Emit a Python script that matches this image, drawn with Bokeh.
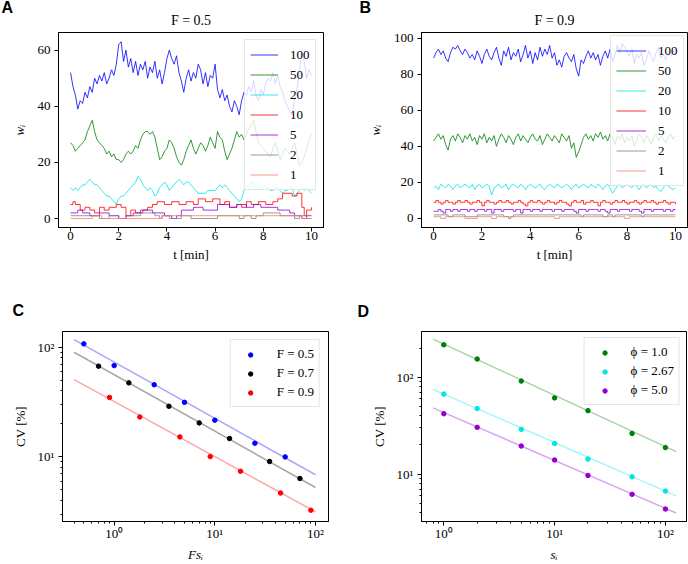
from bokeh.plotting import figure
from bokeh.layouts import column, row
from bokeh.models import (Range1d, Legend, LegendItem, FixedTicker, Title,
                          CustomJSTickFormatter)
from bokeh.embed import file_html
from bokeh.resources import INLINE

SERIF = "Liberation Serif"
SANS = "Liberation Sans"

# ------------------------------------------------------------------ data
# sample times (min) for the densely sampled traces
T_GRID = [round(0.1 * i, 1) for i in range(101)]

SERIES_LABELS = ["100", "50", "20", "10", "5", "2", "1"]
SERIES_COLORS = ["#0000ff", "#008000", "#00e5e5", "#ff0000", "#9400d3", "#808080", "#f08070"]

# ---- panel A  (F = 0.5)
A_W100 = [52, 47, 44, 39, 42, 41, 45, 43, 47, 45,
          50, 48, 51, 49, 52, 48, 50, 53, 51, 55,
          62, 63, 56, 60, 54, 57, 52, 56, 51, 55,
          53, 56, 50, 54, 52, 56, 50, 53, 48, 52,
          57, 60, 57, 55, 58, 52, 49, 45, 50, 53,
          49, 52, 50, 55, 53, 48, 52, 47, 51, 50,
          55, 46, 43, 46, 42, 44, 40, 38, 42, 40,
          37, 42, 45, 44, 47, 45, 49, 44, 42, 46,
          44, 48, 50, 49, 52, 48, 51, 47, 45, 42,
          40, 38, 37, 42, 46, 52, 60, 56, 50, 53, 51]
A_W50 = [27, 26, 24, 25, 26, 27, 28, 31, 33, 35,
         31, 28, 27, 26, 25, 23, 24, 22, 23, 21,
         21, 20, 21, 23, 24, 23, 24, 26, 25, 28,
         30, 31, 31, 30, 31, 29, 25, 21, 22, 24,
         25, 28, 27, 25, 22, 20, 19, 21, 24, 26,
         28, 25, 23, 25, 27, 26, 24, 26, 29, 27,
         25, 31, 29, 28, 24, 21, 23, 25, 28, 31,
         29, 30, 28, 30, 32, 33, 35, 31, 27, 26,
         25, 24, 23, 22, 25, 27, 24, 21, 23, 25,
         24, 23, 25, 27, 23, 19, 20, 22, 25, 28, 30]
A_W20 = [11, 10, 11, 10, 11, 12, 12, 13, 14, 13,
         12, 12, 11, 10, 9, 8, 8, 7, 6, 5,
         7, 8, 8, 9, 10, 11, 12, 13, 15, 14,
         12, 11, 10, 11, 10, 8, 9, 11, 12, 13,
         12, 10, 11, 12, 13, 14, 13, 12, 13, 13,
         12, 11, 10, 9, 9, 9, 9, 10, 10, 10,
         10, 11, 12, 11, 12, 11, 10, 9, 8, 7,
         6, 7, 10, 11, 12, 13, 12, 11, 12, 11,
         12, 11, 11, 10, 10, 11, 11, 10, 9, 10,
         10, 11, 11, 8, 9, 10, 11, 10, 11, 10, 9]
A_T10 = [0, 0.1, 0.2, 0.4, 0.6, 0.8, 1.0, 1.2, 1.4, 1.6, 1.9, 2.1, 2.3, 2.5, 2.7,
         3.0, 3.2, 3.4, 3.6, 3.9, 4.2, 4.5, 4.8, 5.1, 5.3, 5.6, 5.9, 6.2, 6.4, 6.6,
         6.9, 7.1, 7.3, 7.5, 7.8, 8.1, 8.4, 8.6, 8.8, 9.2, 9.4, 9.6, 9.7, 9.8, 10.0]
A_W10 = [5, 6, 5, 3, 4, 3, 2, 4, 3, 4, 5, 4, 1, 3, 2,
         3, 4, 5, 6, 5, 6, 5, 6, 5, 7, 6, 7, 5, 6, 4,
         5, 4, 6, 5, 6, 5, 6, 7, 9, 8, 9, 4, 1, 3, 4]
A_T5 = [0, 0.3, 0.5, 0.8, 1.2, 1.6, 2.0, 2.3, 2.6, 2.9, 3.4, 3.9, 4.2, 4.4, 4.6,
        5.1, 5.5, 6.1, 6.6, 6.9, 7.3, 7.6, 7.9, 8.6, 9.1, 9.3, 9.6, 9.8, 10.0]
A_W5 = [2, 3, 2, 1, 2, 1, 0, 1, 2, 3, 2, 1, 0, 1, 3,
        4, 3, 5, 4, 5, 4, 5, 4, 3, 2, 1, 0, 1, 1]
A_T2 = [0, 1.2, 1.6, 2.0, 2.3, 2.9, 3.5, 3.7, 3.8, 4.1, 4.6, 5.0, 6.1, 7.0, 7.2,
        7.5, 7.7, 8.0, 8.7, 9.3, 9.5, 9.8, 10.0]
A_W2 = [1, 0, 1, 0, 1, 2, 1, 0, 1, 0, 1, 0, 1, 0, 1,
        0, 1, 2, 1, 0, 1, 0, 0]
A_T1 = [0, 0.9, 1.3, 3.8, 9.6, 10.0]
A_W1 = [0, 1, 0, 1, 0, 0]

# ---- panel B  (F = 0.9)
B_W100 = [89, 92, 94, 91, 93, 89, 87, 92, 95, 94,
          96, 93, 91, 94, 92, 89, 91, 88, 93, 90,
          86, 91, 94, 90, 88, 92, 95, 89, 85, 93,
          90, 95, 88, 92, 90, 94, 87, 91, 96, 89,
          93, 86, 92, 88, 95, 90, 94, 91, 96, 89,
          92, 85, 88, 84, 90, 92, 89, 87, 91, 83,
          79, 88, 86, 90, 93, 89, 92, 88, 91, 85,
          90, 93, 89, 94, 87, 91, 96, 92, 97, 95,
          93, 90, 94, 86, 91, 89, 92, 85, 88, 93,
          90, 87, 92, 95, 89, 91, 88, 92, 90, 93, 91]
B_W50 = [43, 45, 47, 44, 46, 41, 38, 44, 46, 43,
         47, 45, 42, 46, 44, 47, 43, 45, 41, 46,
         44, 47, 42, 45, 43, 46, 40, 44, 47, 45,
         42, 46, 44, 41, 45, 47, 43, 46, 44, 42,
         45, 47, 44, 43, 46, 41, 44, 47, 45, 43,
         46, 44, 42, 47, 45, 43, 46, 39, 42, 34,
         37, 41, 45, 47, 44, 46, 43, 47, 45, 48,
         44, 46, 43, 47, 45, 41, 46, 44, 47, 42,
         45, 43, 46, 40, 44, 47, 45, 42, 46, 44,
         41, 45, 47, 43, 46, 44, 42, 45, 47, 44, 46]
B_W20 = [17, 18, 16, 19, 18, 17, 19, 18, 16, 18,
         19, 17, 18, 19, 18, 17, 19, 16, 18, 19,
         17, 18, 19, 18, 13, 17, 18, 19, 17, 18,
         19, 16, 18, 19, 18, 17, 19, 18, 16, 18,
         19, 18, 17, 18, 19, 17, 16, 18, 19, 18,
         17, 19, 18, 17, 18, 19, 18, 16, 18, 19,
         17, 18, 19, 18, 17, 19, 18, 17, 19, 18,
         16, 18, 19, 17, 14, 16, 18, 19, 17, 18,
         19, 18, 17, 19, 18, 16, 18, 19, 17, 18,
         19, 17, 18, 16, 15, 17, 19, 18, 17, 16, 17]
B_W10 = [9, 10, 9, 8, 9, 10, 9, 9, 8, 9,
         10, 9, 9, 10, 9, 8, 9, 9, 10, 9,
         7, 9, 10, 9, 9, 8, 9, 10, 9, 9,
         10, 9, 8, 9, 9, 10, 9, 8, 7, 9,
         10, 9, 9, 10, 9, 8, 9, 10, 9, 9,
         8, 9, 10, 9, 9, 8, 7, 9, 10, 9,
         9, 10, 8, 9, 9, 10, 9, 9, 7, 9,
         10, 9, 9, 8, 9, 10, 9, 9, 10, 9,
         8, 9, 9, 10, 9, 8, 9, 10, 9, 9,
         10, 9, 8, 9, 9, 10, 9, 8, 9, 9, 8]
B_W5 = [4, 4, 5, 4, 3, 5, 5, 4, 5, 5,
        4, 5, 5, 5, 4, 5, 5, 4, 5, 5,
        5, 4, 5, 5, 3, 5, 5, 5, 4, 5,
        5, 5, 5, 4, 5, 5, 3, 5, 5, 5,
        4, 5, 5, 5, 4, 5, 5, 5, 5, 4,
        5, 5, 5, 4, 5, 5, 5, 5, 4, 3,
        5, 5, 5, 4, 5, 5, 5, 5, 4, 5,
        5, 4, 3, 5, 5, 5, 4, 5, 5, 5,
        5, 4, 5, 5, 5, 4, 3, 5, 5, 5,
        4, 5, 5, 5, 5, 4, 5, 5, 4, 5, 5]
B_T2 = [0, 0.6, 0.8, 1.3, 1.8, 2.9, 3.1, 3.2, 3.3, 6.1, 6.2, 7.0, 7.2, 7.4, 7.5, 8.6, 8.7, 10.0]
B_W2 = [2, 1, 2, 1, 2, 1, 0, 1, 2, 1, 2, 1, 2, 1, 2, 1, 2, 2]
B_T1 = [0, 0.3, 0.5, 1.3, 1.8, 2.4, 2.6, 5.0, 5.2, 7.9, 8.1, 10.0]
B_W1 = [1, 0, 1, 0, 1, 0, 1, 0, 1, 0, 1, 1]

# ---- panel C  (CV vs F*s_i)
C_LABELS = ["F = 0.5", "F = 0.7", "F = 0.9"]
C_COLORS = ["#0000ff", "#000000", "#ff0000"]
C_X = [[0.5, 1, 2.5, 5, 10, 25, 50],
       [0.7, 1.4, 3.5, 7, 14, 35, 70],
       [0.9, 1.8, 4.5, 9, 18, 45, 90]]
C_Y = [[107, 67.8, 45.4, 31.4, 21.6, 13.3, 10.0],
       [67, 47.2, 28.9, 20.4, 14.7, 9.08, 6.36],
       [34.8, 23.1, 15.2, 10.06, 7.4, 4.69, 3.27]]
C_FIT_X = [0.4, 100]
C_FIT_Y = [[117, 6.88], [89.7, 5.26], [50.6, 3.16]]

# ---- panel D  (CV vs s_i)
D_LABELS = ["\u03d5 = 1.0", "\u03d5 = 2.67", "\u03d5 = 5.0"]
D_COLORS = ["#008000", "#00e5e5", "#9400d3"]
D_X = [1, 2, 5, 10, 20, 50, 100]
D_Y = [[216, 154, 91.3, 61.2, 45.2, 26.3, 18.8],
       [67, 47.5, 29, 20.7, 14.3, 9.4, 6.7],
       [42, 30.4, 19.5, 14.0, 9.7, 6.2, 4.37]]
D_FIT_X = [0.8, 125]
D_FIT_Y = [[247, 17.1], [75, 5.97], [48.2, 3.98]]

LOG_MAJOR = [1, 10, 100]

W, H = 344, 282


# ------------------------------------------------------------------ helpers
def make_fig(border, xr, yr, log=False):
    left, right, top, bottom = border
    kw = dict(width=W, height=H, min_border_left=left, min_border_right=right,
              min_border_top=top, min_border_bottom=bottom,
              x_range=Range1d(*xr), y_range=Range1d(*yr),
              output_backend="svg", toolbar_location=None)
    if log:
        kw.update(x_axis_type="log", y_axis_type="log")
    p = figure(**kw)
    p.grid.visible = False
    p.outline_line_color = "black"
    p.outline_line_width = 1
    p.outline_line_alpha = 1
    p.background_fill_color = "white"
    p.border_fill_color = "white"
    for ax in p.axis:
        ax.major_label_text_font = SERIF
        ax.major_label_text_font_size = "13px"
        ax.major_label_text_color = "black"
        ax.axis_label_text_font = SERIF
        ax.axis_label_text_font_size = "13px"
        ax.axis_label_text_font_style = "normal"
        ax.axis_label_text_color = "black"
        ax.axis_line_color = "black"
        ax.major_tick_line_color = "black"
        ax.minor_tick_line_color = "black"
        ax.major_tick_in = 0
        ax.major_tick_out = 4
        ax.minor_tick_in = 0
        ax.minor_tick_out = 2
        if not log:
            ax.minor_tick_line_color = None
    p.xaxis.major_label_standoff = 0
    p.xaxis.axis_label_standoff = 4
    p.yaxis.major_label_standoff = 4
    p.yaxis.axis_label_standoff = 8
    return p


def make_title(text, align, offset, standoff, font, size, style):
    kw = dict(text=text, align=align, offset=offset, text_font=font,
              text_font_size=size, text_font_style=style, text_color="black")
    try:
        return Title(standoff=standoff, **kw)
    except Exception:
        return Title(standoff=0, **kw)


def add_titles(p, letter, letter_offset, letter_standoff, subtitle=None):
    # panels in "above" stack outward from the frame in the order they are added
    if subtitle is not None:
        p.add_layout(make_title(subtitle, "center", 0, 10, SERIF, "14px", "normal"), "above")
    p.add_layout(make_title(letter, "left", letter_offset, letter_standoff,
                            SANS, "16px", "bold"), "above")


def style_legend(leg, glyph_w, standoff, margin, label_h, glyph_h=None):
    leg.location = "top_right"
    leg.margin = margin
    leg.padding = 5
    leg.spacing = 1
    leg.label_height = label_h
    leg.glyph_height = glyph_h if glyph_h is not None else label_h
    leg.glyph_width = glyph_w
    leg.label_standoff = standoff
    leg.label_text_font = SERIF
    leg.label_text_font_size = "13px"
    leg.label_text_color = "black"
    leg.border_line_color = "#cccccc"
    leg.border_line_width = 1
    leg.background_fill_color = "white"
    leg.background_fill_alpha = 0.8


def log_axes(p, xminor, yminor):
    fmt = CustomJSTickFormatter(code="""
        const m = {1: '10\u2070', 10: '10\u00b9', 100: '10\u00b2'};
        return (tick in m) ? m[tick] : '';
    """)
    p.xaxis.ticker = FixedTicker(ticks=LOG_MAJOR, minor_ticks=xminor)
    p.yaxis.ticker = FixedTicker(ticks=LOG_MAJOR, minor_ticks=yminor)
    p.xaxis.formatter = fmt
    p.yaxis.formatter = fmt
    p.xaxis.axis_label_standoff = 3
    p.yaxis.axis_label_standoff = 7


# ------------------------------------------------------------------ panel A
BA = (58, 21, 32, 55)
pA = make_fig(BA, (-0.5, 10.5), (-3.2, 66.3))
pA.xaxis.ticker = [0, 2, 4, 6, 8, 10]
pA.yaxis.ticker = [0, 20, 40, 60]
pA.xaxis.axis_label = "t [min]"
pA.yaxis.axis_label = "w\u1d62"
pA.yaxis.axis_label_text_font_style = "italic"
rA = [pA.line(T_GRID, A_W100, color=SERIES_COLORS[0], line_width=0.8),
      pA.line(T_GRID, A_W50, color=SERIES_COLORS[1], line_width=0.8),
      pA.line(T_GRID, A_W20, color=SERIES_COLORS[2], line_width=0.8),
      pA.step(A_T10, A_W10, mode="after", color=SERIES_COLORS[3], line_width=0.8),
      pA.step(A_T5, A_W5, mode="after", color=SERIES_COLORS[4], line_width=0.8),
      pA.step(A_T2, A_W2, mode="after", color=SERIES_COLORS[5], line_width=0.8),
      pA.step(A_T1, A_W1, mode="after", color=SERIES_COLORS[6], line_width=0.8)]
legA = Legend(items=[LegendItem(label=l, renderers=[r]) for l, r in zip(SERIES_LABELS, rA)])
style_legend(legA, 28, 12, 7, 19)
pA.add_layout(legA)
add_titles(pA, "A", 1 - BA[0], -20, subtitle="F = 0.5")

# ------------------------------------------------------------------ panel B
BB = (77, 1, 32, 55)
pB = make_fig(BB, (-0.5, 10.5), (-5.0, 103.2))
pB.xaxis.ticker = [0, 2, 4, 6, 8, 10]
pB.yaxis.ticker = [0, 20, 40, 60, 80, 100]
pB.xaxis.axis_label = "t [min]"
pB.yaxis.axis_label = "w\u1d62"
pB.yaxis.axis_label_text_font_style = "italic"
rB = [pB.line(T_GRID, B_W100, color=SERIES_COLORS[0], line_width=0.8),
      pB.line(T_GRID, B_W50, color=SERIES_COLORS[1], line_width=0.8),
      pB.line(T_GRID, B_W20, color=SERIES_COLORS[2], line_width=0.8),
      pB.step(T_GRID, B_W10, mode="after", color=SERIES_COLORS[3], line_width=0.8),
      pB.step(T_GRID, B_W5, mode="after", color=SERIES_COLORS[4], line_width=0.8),
      pB.step(B_T2, B_W2, mode="after", color=SERIES_COLORS[5], line_width=0.8),
      pB.step(B_T1, B_W1, mode="after", color=SERIES_COLORS[6], line_width=0.8)]
legB = Legend(items=[LegendItem(label=l, renderers=[r]) for l, r in zip(SERIES_LABELS, rB)])
style_legend(legB, 30, 12, 3, 19)
pB.add_layout(legB)
add_titles(pB, "B", 15 - BB[0], -20, subtitle="F = 0.9")

# ------------------------------------------------------------------ panel C
BC = (62, 16, 49, 38)
pC = make_fig(BC, (0.307, 134.6), (2.58, 138.6), log=True)
log_axes(pC, [0.4, 0.5, 0.6, 0.7, 0.8, 0.9, 2, 3, 4, 5, 6, 7, 8, 9,
              20, 30, 40, 50, 60, 70, 80, 90],
         [3, 4, 5, 6, 7, 8, 9, 20, 30, 40, 50, 60, 70, 80, 90])
pC.xaxis.axis_label = "Fs\u1d62"
pC.xaxis.axis_label_text_font_style = "italic"
pC.yaxis.axis_label = "CV [%]"
rC = []
for i in range(3):
    pC.line(C_FIT_X, C_FIT_Y[i], color=C_COLORS[i], line_width=1.5, line_alpha=0.35)
    rC.append(pC.scatter(C_X[i], C_Y[i], size=4.5, color=C_COLORS[i]))
legC = Legend(items=[LegendItem(label=l, renderers=[r]) for l, r in zip(C_LABELS, rC)])
style_legend(legC, 29, 12, 8, 18, glyph_h=11)
pC.add_layout(legC)
add_titles(pC, "C", 12 - BC[0], 25)

# ------------------------------------------------------------------ panel D
BD = (77, 2, 48, 36)
pD = make_fig(BD, (0.629, 155), (3.25, 296), log=True)
log_axes(pD, [0.7, 0.8, 0.9, 2, 3, 4, 5, 6, 7, 8, 9, 20, 30, 40, 50, 60, 70, 80, 90],
         [4, 5, 6, 7, 8, 9, 20, 30, 40, 50, 60, 70, 80, 90, 200])
pD.xaxis.axis_label = "s\u1d62"
pD.xaxis.axis_label_text_font_style = "italic"
pD.yaxis.axis_label = "CV [%]"
rD = []
for i in range(3):
    pD.line(D_FIT_X, D_FIT_Y[i], color=D_COLORS[i], line_width=1.5, line_alpha=0.35)
    rD.append(pD.scatter(D_X, D_Y[i], size=4.5, color=D_COLORS[i]))
legD = Legend(items=[LegendItem(label=l, renderers=[r]) for l, r in zip(D_LABELS, rD)])
style_legend(legD, 30, 11, 6, 18, glyph_h=11)
pD.add_layout(legD)
add_titles(pD, "D", 357 - 344 - BD[0], 24)

layout = column(row(pA, pB), row(pC, pD))
open("out.html", "w").write(file_html(layout, INLINE))
